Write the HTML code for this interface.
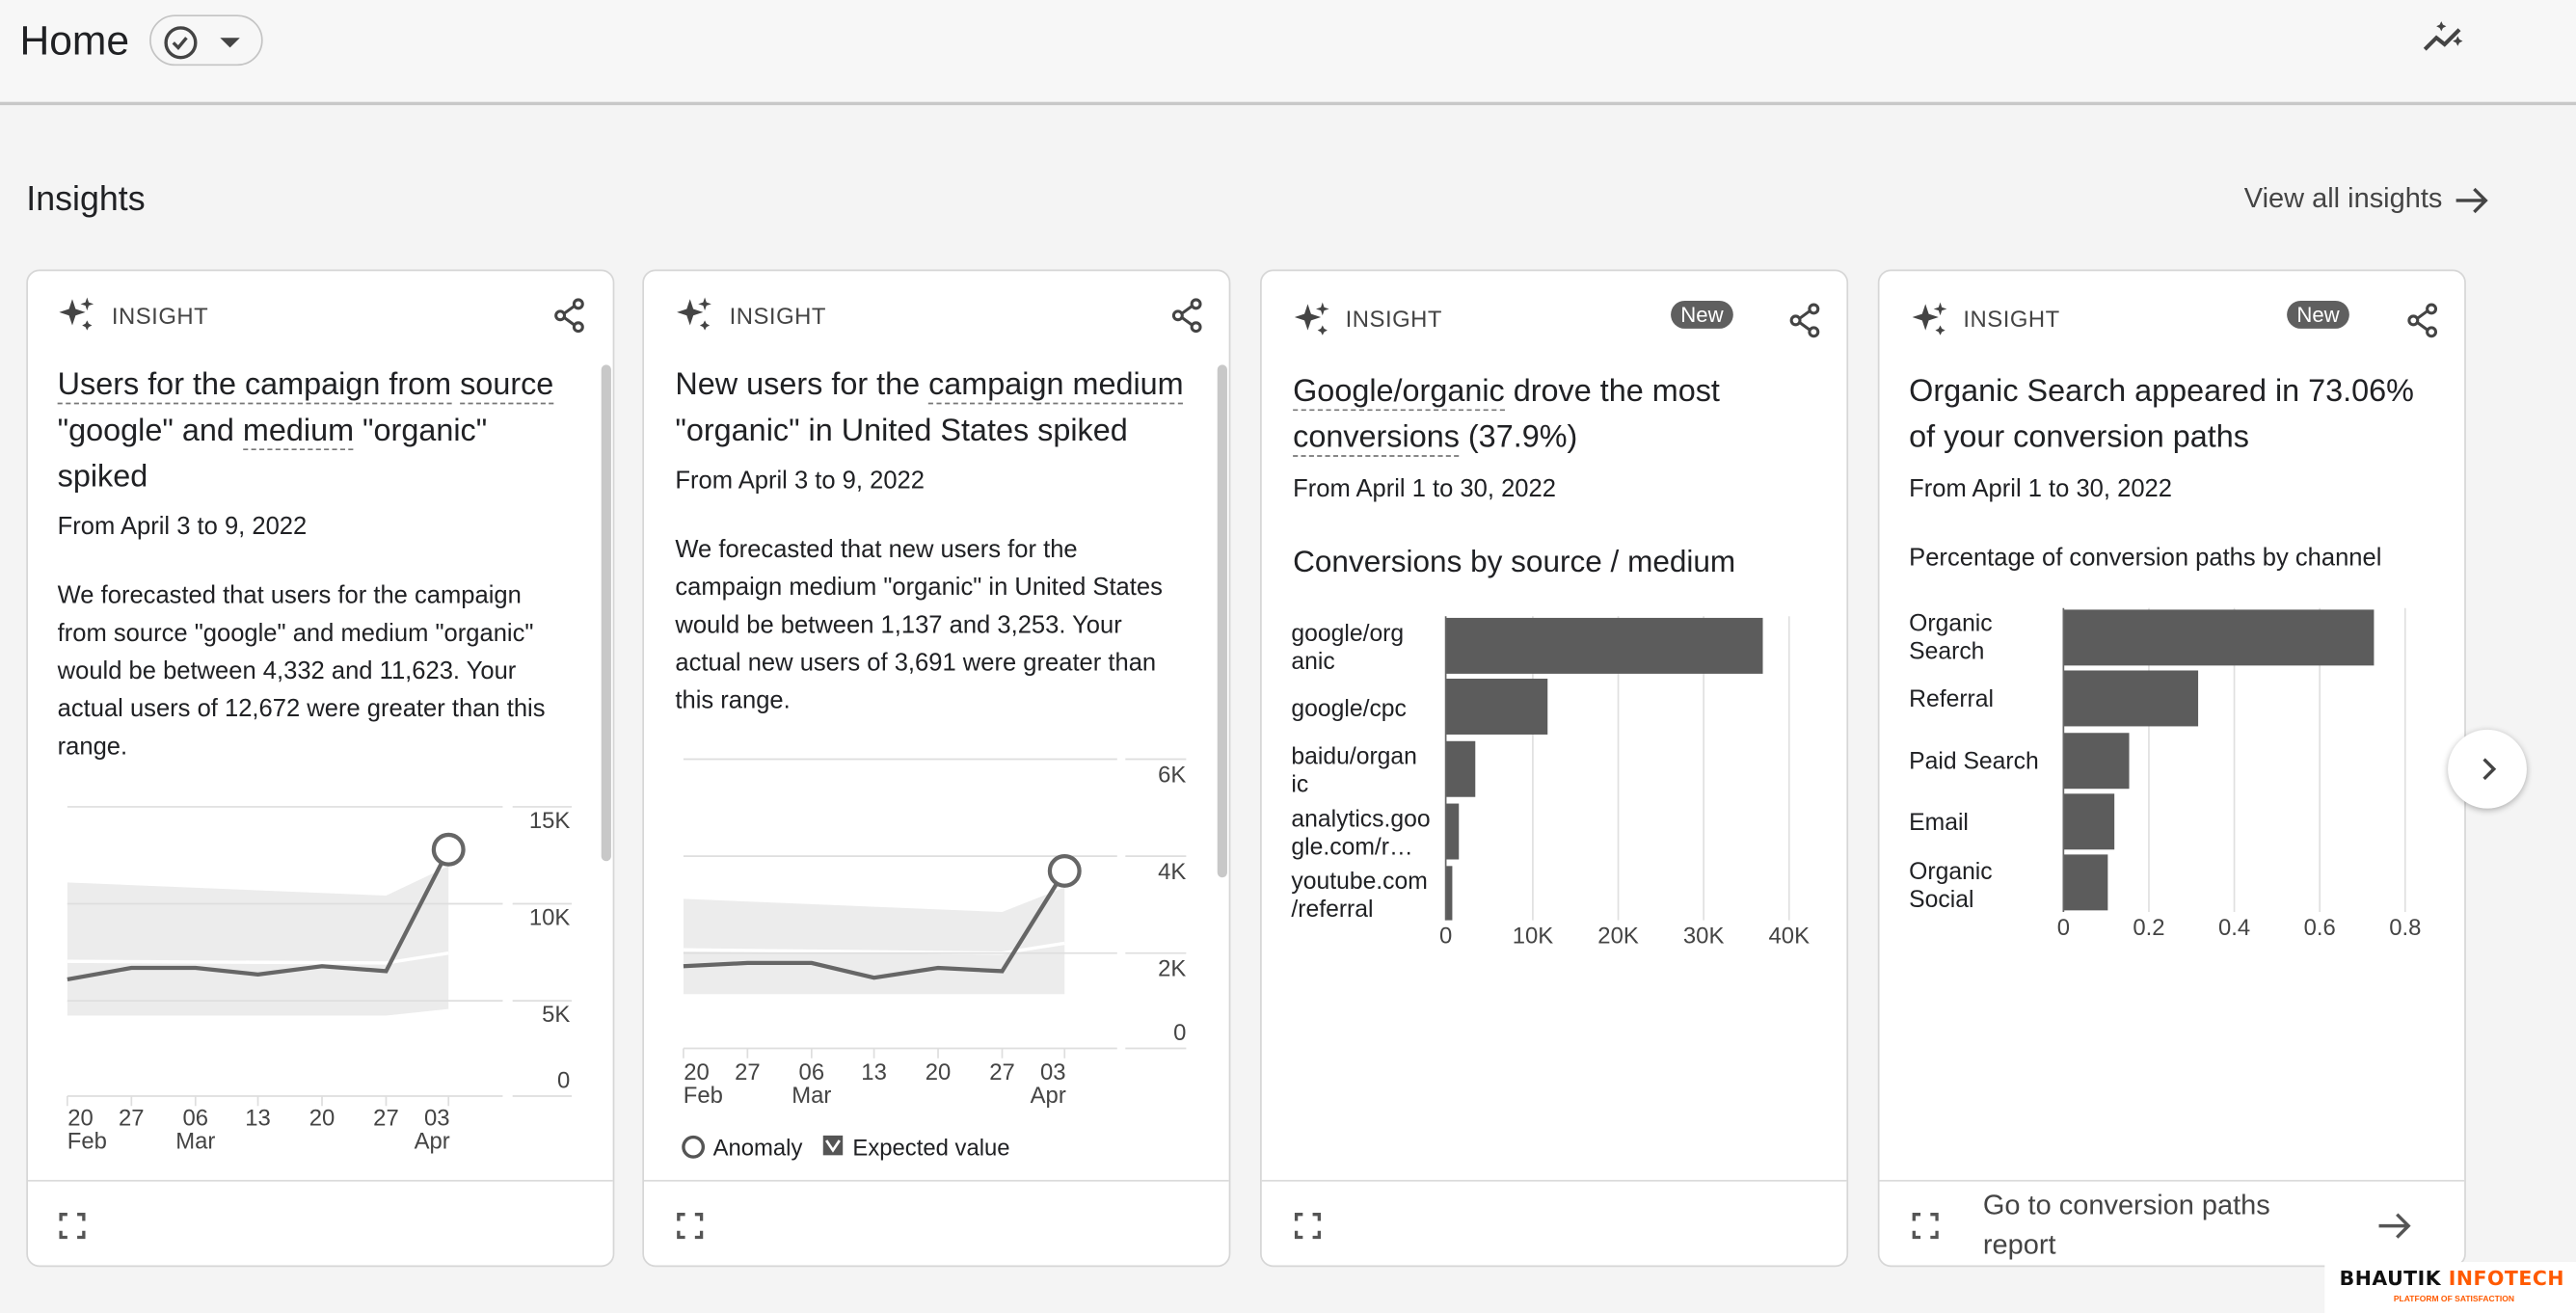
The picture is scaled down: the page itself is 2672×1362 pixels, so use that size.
<!DOCTYPE html><html><head><style>
body{margin:0;width:2672px;height:1362px;overflow:hidden;background:#f4f4f4;font-family:"Liberation Sans",Arial,sans-serif;color:#202124}
#w{position:absolute;left:0;top:0;width:1568px;height:799px;transform:scale(1.7041,1.7046);transform-origin:0 0}
.a{position:absolute;white-space:nowrap}
.card{position:absolute;top:164px;height:607px;background:#fff;border:1px solid #d6d6d6;border-radius:8px;box-sizing:border-box}
.lab{font-size:14px;color:#444;letter-spacing:.3px}
.t{font-size:19px;line-height:28px;color:#202124}
.u{border-bottom:1.5px dashed #777}
.s{font-size:15px;line-height:23px;color:#202124}
.new{background:#5f5f5f;color:#fff;font-size:13px;border-radius:9px;padding:1px 6px}
</style></head><body><div id="w">
<div class="a" style="left:0;top:0;width:1568px;height:62px;background:#f7f7f7;border-bottom:2px solid #c8c8c8"></div>
<div class="a" style="left:12px;top:11px;font-size:25px">Home</div>
<div class="a" style="left:91px;top:9px;width:69px;height:31px;border:1px solid #c4c4c4;border-radius:16px;box-sizing:border-box"></div>
<svg class="a" style="left:98px;top:14px" width="60" height="24"><circle cx="12" cy="12" r="9" fill="none" stroke="#444" stroke-width="2"/><path d="M7.5 12l3 3 5-6" fill="none" stroke="#444" stroke-width="2"/><path d="M36 9l6 6 6-6z" fill="#444"/></svg>
<svg class="a" style="left:1474px;top:10px" width="30" height="24"><path d="M2 20l7-7 5 4 9-9" fill="none" stroke="#444" stroke-width="2.4"/><path d="M12 3l1 2 2 1-2 1-1 2-1-2-2-1 2-1zM22 12l1 2 2 1-2 1-1 2-1-2-2-1 2-1z" fill="#444"/></svg>
<div class="a" style="left:16px;top:110px;font-size:21px">Insights</div>
<div class="a" style="left:1366px;top:111px;font-size:17px;color:#444">View all insights</div>
<svg class="a" style="left:1493px;top:112px" width="24" height="20"><path d="M2 10h18M13 3l7 7-7 7" fill="none" stroke="#444" stroke-width="2"/></svg>

<!-- card 1 -->
<div class="card" style="left:16px;width:358px"></div>
<svg class="a" style="left:34px;top:180px" width="26" height="24"><path d="M10 2l2 6 6 2-6 2-2 6-2-6-6-2 6-2zM19 1l1 3 3 1-3 1-1 3-1-3-3-1 3-1zM19 15l1 2 2 1-2 1-1 2-1-2-2-1 2-1z" fill="#444"/></svg>
<div class="a lab" style="left:68px;top:184px">INSIGHT</div>
<svg class="a" style="left:336px;top:181px" width="22" height="22"><g fill="none" stroke="#444" stroke-width="1.8"><circle cx="16" cy="4" r="2.6"/><circle cx="5" cy="11" r="2.6"/><circle cx="16" cy="18" r="2.6"/><path d="M7.5 9.7l6-4.4M7.5 12.3l6 4.4"/></g></svg>
<div class="a t" style="left:35px;top:221px"><span class="u">Users for the campaign from</span> <span class="u">source</span><br>"google" and <span class="u">medium</span> "organic"<br>spiked</div>
<div class="a s" style="left:35px;top:309px">From April 3 to 9, 2022</div>
<div class="a s" style="left:35px;top:351px">We forecasted that users for the campaign<br>from source "google" and medium "organic"<br>would be between 4,332 and 11,623. Your<br>actual users of 12,672 were greater than this<br>range.</div>
<svg class="a" style="left:16px;top:480px" width="358" height="230" font-family="Liberation Sans" font-size="14" fill="#444">
<g transform="translate(-16,-480)">
<path d="M41 537L235 545L273 527L273 614L235 618L41 618Z" fill="#ececec"/>
<path d="M41 585L235 586L273 580" stroke="#fff" stroke-width="2" fill="none"/>
<g stroke="#dedede"><path d="M41 491H306M41 550H306M41 609H306M41 667H306M312 491H348M312 550H348M312 609H348M312 667H348"/><path d="M41 667v6M80 667v6M119 667v6M157 667v6M196 667v6M235 667v6M273 667v6"/></g>
<path d="M41 596L80 589L119 589L157 593L196 588L235 591L273 517" stroke="#666" stroke-width="2.5" fill="none"/>
<circle cx="273" cy="517" r="9" fill="#fff" stroke="#666" stroke-width="2.5"/>
<text x="347" y="504" text-anchor="end">15K</text><text x="347" y="563" text-anchor="end">10K</text><text x="347" y="622" text-anchor="end">5K</text><text x="347" y="662" text-anchor="end">0</text>
<g text-anchor="middle"><text x="49" y="685">20</text><text x="80" y="685">27</text><text x="119" y="685">06</text><text x="157" y="685">13</text><text x="196" y="685">20</text><text x="235" y="685">27</text><text x="266" y="685">03</text><text x="53" y="699">Feb</text><text x="119" y="699">Mar</text><text x="263" y="699">Apr</text></g>
</g></svg>
<div class="a" style="left:366px;top:222px;width:6px;height:302px;background:#c8c8c8;border-radius:3px"></div>
<div class="a" style="left:17px;top:718px;width:356px;border-top:1px solid #dadada"></div>
<svg class="a" style="left:36px;top:738px" width="16" height="16"><path d="M1 5V1h4M11 1h4v4M15 11v4h-4M5 15H1v-4" fill="none" stroke="#555" stroke-width="2"/></svg>

<!-- card 2 -->
<div class="card" style="left:391px;width:358px"></div>
<svg class="a" style="left:410px;top:180px" width="26" height="24"><path d="M10 2l2 6 6 2-6 2-2 6-2-6-6-2 6-2zM19 1l1 3 3 1-3 1-1 3-1-3-3-1 3-1zM19 15l1 2 2 1-2 1-1 2-1-2-2-1 2-1z" fill="#444"/></svg>
<div class="a lab" style="left:444px;top:184px">INSIGHT</div>
<svg class="a" style="left:712px;top:181px" width="22" height="22"><g fill="none" stroke="#444" stroke-width="1.8"><circle cx="16" cy="4" r="2.6"/><circle cx="5" cy="11" r="2.6"/><circle cx="16" cy="18" r="2.6"/><path d="M7.5 9.7l6-4.4M7.5 12.3l6 4.4"/></g></svg>
<div class="a t" style="left:411px;top:221px">New users for the <span class="u">campaign medium</span><br>"organic" in United States spiked</div>
<div class="a s" style="left:411px;top:281px">From April 3 to 9, 2022</div>
<div class="a s" style="left:411px;top:323px">We forecasted that new users for the<br>campaign medium "organic" in United States<br>would be between 1,137 and 3,253. Your<br>actual new users of 3,691 were greater than<br>this range.</div>
<svg class="a" style="left:391px;top:450px" width="358" height="260" font-family="Liberation Sans" font-size="14" fill="#444">
<g transform="translate(-391,-450)">
<path d="M416 547L610 555L648 540L648 605L416 605Z" fill="#ececec"/>
<path d="M416 578L610 580L648 574" stroke="#fff" stroke-width="2" fill="none"/>
<g stroke="#dedede"><path d="M416 462H680M416 521H680M416 580H680M416 638H680M685 462H722M685 521H722M685 580H722M685 638H722"/><path d="M416 638v6M455 638v6M494 638v6M532 638v6M571 638v6M610 638v6M648 638v6"/></g>
<path d="M416 588L455 586L494 586L532 595L571 589L610 591L648 530" stroke="#666" stroke-width="2.5" fill="none"/>
<circle cx="648" cy="530" r="9" fill="#fff" stroke="#666" stroke-width="2.5"/>
<text x="722" y="476" text-anchor="end">6K</text><text x="722" y="535" text-anchor="end">4K</text><text x="722" y="594" text-anchor="end">2K</text><text x="722" y="633" text-anchor="end">0</text>
<g text-anchor="middle"><text x="424" y="657">20</text><text x="455" y="657">27</text><text x="494" y="657">06</text><text x="532" y="657">13</text><text x="571" y="657">20</text><text x="610" y="657">27</text><text x="641" y="657">03</text><text x="428" y="671">Feb</text><text x="494" y="671">Mar</text><text x="638" y="671">Apr</text></g>
<circle cx="422" cy="698" r="6" fill="none" stroke="#555" stroke-width="2"/>
<text x="434" y="703" font-size="14" fill="#202124">Anomaly</text>
<rect x="501" y="691" width="12" height="12" fill="#555"/><path d="M503 694l4 6 4-6" stroke="#fff" stroke-width="1.6" fill="none"/>
<text x="519" y="703" font-size="14" fill="#202124">Expected value</text>
</g></svg>
<div class="a" style="left:741px;top:222px;width:6px;height:312px;background:#c8c8c8;border-radius:3px"></div>
<div class="a" style="left:392px;top:718px;width:356px;border-top:1px solid #dadada"></div>
<svg class="a" style="left:412px;top:738px" width="16" height="16"><path d="M1 5V1h4M11 1h4v4M15 11v4h-4M5 15H1v-4" fill="none" stroke="#555" stroke-width="2"/></svg>

<!-- card 3 -->
<div class="card" style="left:767px;width:358px"></div>
<svg class="a" style="left:786px;top:183px" width="26" height="24"><path d="M10 2l2 6 6 2-6 2-2 6-2-6-6-2 6-2zM19 1l1 3 3 1-3 1-1 3-1-3-3-1 3-1zM19 15l1 2 2 1-2 1-1 2-1-2-2-1 2-1z" fill="#444"/></svg>
<div class="a lab" style="left:819px;top:186px">INSIGHT</div>
<div class="a new" style="left:1017px;top:183px">New</div>
<svg class="a" style="left:1088px;top:184px" width="22" height="22"><g fill="none" stroke="#444" stroke-width="1.8"><circle cx="16" cy="4" r="2.6"/><circle cx="5" cy="11" r="2.6"/><circle cx="16" cy="18" r="2.6"/><path d="M7.5 9.7l6-4.4M7.5 12.3l6 4.4"/></g></svg>
<div class="a t" style="left:787px;top:225px"><span class="u">Google/organic</span> drove the most<br><span class="u">conversions</span> (37.9%)</div>
<div class="a s" style="left:787px;top:286px">From April 1 to 30, 2022</div>
<div class="a" style="left:787px;top:331px;font-size:18.5px">Conversions by source / medium</div>
<svg class="a" style="left:767px;top:360px" width="358" height="230" font-family="Liberation Sans" font-size="14.5" fill="#202124">
<g transform="translate(-767,-360)">
<g stroke="#e0e0e0"><path d="M933 375V560M985 375V560M1037 375V560M1089 375V560"/></g>
<g fill="#5c5c5c"><rect x="880" y="376" width="193" height="34"/><rect x="880" y="413" width="62" height="34"/><rect x="880" y="451" width="18" height="34"/><rect x="880" y="489" width="8" height="34"/><rect x="880" y="527" width="4" height="33"/></g>
<path d="M880 375V560" stroke="#666"/>
<text x="786" y="390">google/org</text><text x="786" y="407">anic</text>
<text x="786" y="436">google/cpc</text>
<text x="786" y="465">baidu/organ</text><text x="786" y="482">ic</text>
<text x="786" y="503">analytics.goo</text><text x="786" y="520">gle.com/r…</text>
<text x="786" y="541">youtube.com</text><text x="786" y="558">/referral</text>
<g text-anchor="middle" font-size="14" fill="#444"><text x="880" y="574">0</text><text x="933" y="574">10K</text><text x="985" y="574">20K</text><text x="1037" y="574">30K</text><text x="1089" y="574">40K</text></g>
</g></svg>
<div class="a" style="left:768px;top:718px;width:356px;border-top:1px solid #dadada"></div>
<svg class="a" style="left:788px;top:738px" width="16" height="16"><path d="M1 5V1h4M11 1h4v4M15 11v4h-4M5 15H1v-4" fill="none" stroke="#555" stroke-width="2"/></svg>

<!-- card 4 -->
<div class="card" style="left:1143px;width:358px"></div>
<svg class="a" style="left:1162px;top:183px" width="26" height="24"><path d="M10 2l2 6 6 2-6 2-2 6-2-6-6-2 6-2zM19 1l1 3 3 1-3 1-1 3-1-3-3-1 3-1zM19 15l1 2 2 1-2 1-1 2-1-2-2-1 2-1z" fill="#444"/></svg>
<div class="a lab" style="left:1195px;top:186px">INSIGHT</div>
<div class="a new" style="left:1392px;top:183px">New</div>
<svg class="a" style="left:1464px;top:184px" width="22" height="22"><g fill="none" stroke="#444" stroke-width="1.8"><circle cx="16" cy="4" r="2.6"/><circle cx="5" cy="11" r="2.6"/><circle cx="16" cy="18" r="2.6"/><path d="M7.5 9.7l6-4.4M7.5 12.3l6 4.4"/></g></svg>
<div class="a t" style="left:1162px;top:225px">Organic Search appeared in 73.06%<br>of your conversion paths</div>
<div class="a s" style="left:1162px;top:286px">From April 1 to 30, 2022</div>
<div class="a s" style="left:1162px;top:328px">Percentage of conversion paths by channel</div>
<svg class="a" style="left:1143px;top:360px" width="358" height="230" font-family="Liberation Sans" font-size="14.5" fill="#202124">
<g transform="translate(-1143,-360)">
<g stroke="#e0e0e0"><path d="M1308 370V555M1360 370V555M1412 370V555M1464 370V555"/></g>
<g fill="#5c5c5c"><rect x="1256" y="371" width="189" height="34"/><rect x="1256" y="408" width="82" height="34"/><rect x="1256" y="446" width="40" height="34"/><rect x="1256" y="483" width="31" height="34"/><rect x="1256" y="520" width="27" height="34"/></g>
<path d="M1256 370V555" stroke="#666"/>
<text x="1162" y="384">Organic</text><text x="1162" y="401">Search</text>
<text x="1162" y="430">Referral</text>
<text x="1162" y="468">Paid Search</text>
<text x="1162" y="505">Email</text>
<text x="1162" y="535">Organic</text><text x="1162" y="552">Social</text>
<g text-anchor="middle" font-size="14" fill="#444"><text x="1256" y="569">0</text><text x="1308" y="569">0.2</text><text x="1360" y="569">0.4</text><text x="1412" y="569">0.6</text><text x="1464" y="569">0.8</text></g>
</g></svg>
<div class="a" style="left:1144px;top:718px;width:356px;border-top:1px solid #dadada"></div>
<svg class="a" style="left:1164px;top:738px" width="16" height="16"><path d="M1 5V1h4M11 1h4v4M15 11v4h-4M5 15H1v-4" fill="none" stroke="#555" stroke-width="2"/></svg>
<div class="a" style="left:1207px;top:722px;font-size:17px;line-height:24px;color:#444">Go to conversion paths<br>report</div>
<svg class="a" style="left:1446px;top:736px" width="24" height="20"><path d="M2 10h18M13 3l7 7-7 7" fill="none" stroke="#555" stroke-width="2"/></svg>

<div class="a" style="left:1490px;top:444px;width:48px;height:48px;border-radius:50%;background:#fff;box-shadow:0 1px 4px rgba(0,0,0,.3)"></div>
<svg class="a" style="left:1506px;top:459px" width="18" height="18"><path d="M6 3l6 6-6 6" fill="none" stroke="#444" stroke-width="2"/></svg>

<div class="a" style="left:1415px;top:768px;width:153px;height:31px;background:#fff"></div>
<div class="a" style="left:1424px;top:771px;font-size:12px;font-weight:bold;letter-spacing:.3px;font-family:'DejaVu Sans',sans-serif"><span style="color:#111">BHAUTIK</span> <span style="color:#ff5a00">INFOTECH</span></div>
<div class="a" style="left:1457px;top:788px;font-size:5px;font-weight:bold;color:#ff5a00">PLATFORM OF SATISFACTION</div>
</div></body></html>
